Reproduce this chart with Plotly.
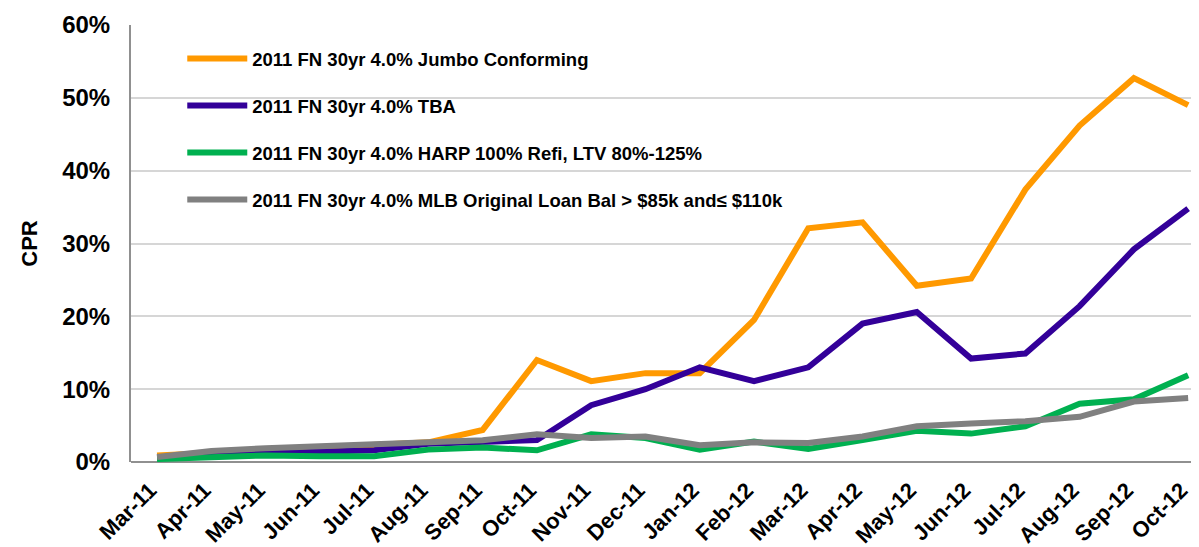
import plotly.graph_objects as go

months = ["Mar-11", "Apr-11", "May-11", "Jun-11", "Jul-11", "Aug-11", "Sep-11", "Oct-11",
          "Nov-11", "Dec-11", "Jan-12", "Feb-12", "Mar-12", "Apr-12", "May-12", "Jun-12",
          "Jul-12", "Aug-12", "Sep-12", "Oct-12"]

jumbo = [0.9, 1.3, 1.7, 2.1, 2.3, 2.7, 4.4, 14.0, 11.1, 12.2, 12.2, 19.5, 32.1, 32.9,
         24.2, 25.2, 37.4, 46.2, 52.7, 49.0]
tba = [0.6, 1.0, 1.2, 1.4, 1.6, 2.5, 2.8, 3.0, 7.8, 10.0, 13.0, 11.1, 13.0, 19.0,
       20.6, 14.2, 14.9, 21.4, 29.2, 34.8]
harp = [0.4, 0.6, 0.9, 0.8, 0.8, 1.7, 2.0, 1.6, 3.8, 3.3, 1.7, 2.8, 1.8, 3.0,
        4.3, 3.9, 4.9, 8.0, 8.6, 11.9]
mlb = [0.7, 1.5, 1.9, 2.2, 2.4, 2.7, 3.0, 3.8, 3.3, 3.5, 2.3, 2.7, 2.6, 3.5,
       4.9, 5.3, 5.6, 6.2, 8.3, 8.8]

series_names = [
    "2011 FN 30yr 4.0% Jumbo Conforming",
    "2011 FN 30yr 4.0% TBA",
    "2011 FN 30yr 4.0% HARP 100% Refi, LTV 80%-125%",
    "2011 FN 30yr 4.0% MLB Original Loan Bal > $85k and≤ $110k",
]
series_values = [jumbo, tba, harp, mlb]
colors = ["#FF9900", "#330099", "#00B050", "#808080"]

FONT = "Arial, Liberation Sans, sans-serif"

fig = go.Figure()
for i, (name, vals, col) in enumerate(zip(series_names, series_values, colors)):
    fig.add_trace(go.Scatter(
        x=months, y=vals, name=name, mode="lines",
        line=dict(color=col, width=6),
        legendgroup=f"g{i}",
    ))

fig.update_layout(
    width=1191, height=539,
    margin=dict(l=123, r=0, t=17, b=85),
    plot_bgcolor="white", paper_bgcolor="white",
    font=dict(family=FONT, color="black"),
    showlegend=True,
    legend=dict(
        x=0.048, y=0.966, xanchor="left", yanchor="top",
        bgcolor="rgba(0,0,0,0)",
        font=dict(family=FONT, size=18.5, color="black", weight="bold"),
        tracegroupgap=20, itemwidth=60,
    ),
    xaxis=dict(
        type="category", range=[-0.48, 19.2],
        tickangle=-45, automargin=False,
        tickfont=dict(family=FONT, size=22, color="black", weight="bold"),
        showgrid=False, showline=False, ticks="",
        ticklabelstandoff=10, ticklabelshift=-7,
    ),
    yaxis=dict(
        range=[0, 60], dtick=10, ticksuffix="%",
        tickfont=dict(family=FONT, size=24, color="black", weight="bold"),
        ticklabelstandoff=14,
        showgrid=True, gridcolor="#D6D6D6", gridwidth=2,
        showline=True, linecolor="#909090", linewidth=2,
        zeroline=True, zerolinecolor="#909090", zerolinewidth=2,
        title=dict(text="CPR", font=dict(family=FONT, size=22, color="black", weight="bold"), standoff=18),
    ),
)

fig.write_html("out.html")
